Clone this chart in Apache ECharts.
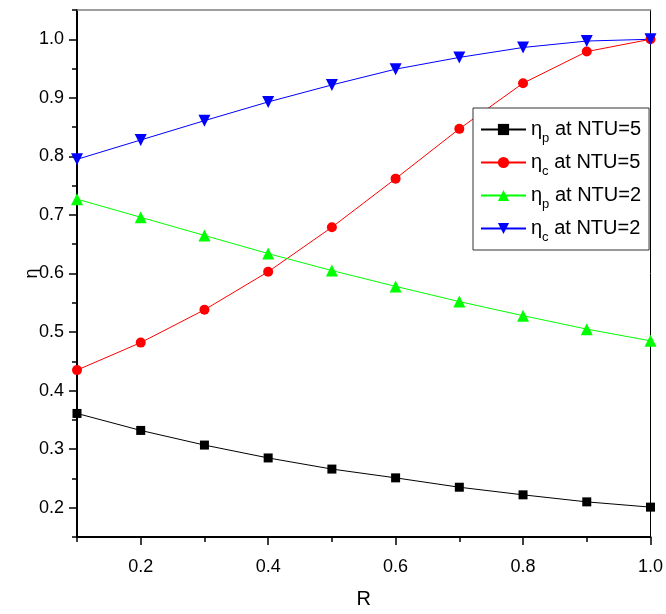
<!DOCTYPE html>
<html>
<head>
<meta charset="utf-8">
<script src="https://cdn.jsdelivr.net/npm/echarts@6/dist/echarts.min.js"></script>
<style>
html, body { margin: 0; padding: 0; background: #fff; }
#chart { width: 666px; height: 614px; }
</style>
</head>
<body>
<div id="chart"></div>
<script>
// R values
var rVals = [0.1, 0.2, 0.3, 0.4, 0.5, 0.6, 0.7, 0.8, 0.9, 1.0];
// efficiencies
var etaP5 = [0.361, 0.332, 0.307, 0.285, 0.266, 0.251, 0.235, 0.222, 0.210, 0.201];
var etaC5 = [0.435, 0.482, 0.538, 0.603, 0.679, 0.762, 0.847, 0.925, 0.979, 1.000];
var etaP2 = [0.727, 0.696, 0.665, 0.634, 0.605, 0.578, 0.552, 0.528, 0.505, 0.485];
var etaC2 = [0.795, 0.828, 0.861, 0.893, 0.922, 0.949, 0.969, 0.986, 0.997, 1.000];

var xMajor = [0.2, 0.4, 0.6, 0.8, 1.0];
var yMajor = [0.2, 0.3, 0.4, 0.5, 0.6, 0.7, 0.8, 0.9, 1.0];

var names = ['{n|η}{s|p}{n| at NTU=5}', '{n|η}{s|c}{n| at NTU=5}', '{n|η}{s|p}{n| at NTU=2}', '{n|η}{s|c}{n| at NTU=2}'];

function pairs(ys) {
	var out = [];
	for (var i = 0; i < rVals.length; i++) {
		out.push([rVals[i], ys[i]]);
	}
	return out;
}

var font = 'Liberation Sans, Arial, sans-serif';

var myChart = echarts.init(document.getElementById('chart'));
var option = {
	animation: false,
	backgroundColor: '#fff',
	textStyle: { fontFamily: font },
	grid: { left: 77, right: 11, top: 10, bottom: 76 },
	legend: {
		left: 473,
		top: 108,
		orient: 'vertical',
		padding: [6, 8, 6, 7],
		itemWidth: 45,
		itemHeight: 14,
		itemGap: 2,
		borderColor: '#333',
		borderWidth: 1,
		backgroundColor: '#fff',
		formatter: function(name) { return name; },
		textStyle: {
			fontSize: 20,
			lineHeight: 31,
			rich: {
				n: { fontSize: 20, color: '#000', fontFamily: font, verticalAlign: 'middle' },
				s: { fontSize: 13, lineHeight: 13, color: '#000', fontFamily: font, verticalAlign: 'bottom' }
			}
		},
		data: names
	},
	xAxis: [
		{
			type: 'value', position: 'bottom',
			min: 0.1, max: 1.0, interval: 0.1,
			name: 'R', nameLocation: 'middle', nameGap: 52, nameMoveOverlap: false,
			nameTextStyle: { fontSize: 20, color: '#000', fontFamily: font },
			axisLine: { lineStyle: { color: '#000', width: 2 } },
			axisTick: { length: 5, lineStyle: { color: '#000', width: 1.5 } },
			axisLabel: {
				customValues: xMajor, margin: 21, fontSize: 18, color: '#000', fontFamily: font,
				formatter: function(v) { return v.toFixed(1); }
			},
			splitLine: { show: false }
		},
		{
			type: 'value', position: 'bottom',
			min: 0.1, max: 1.0, interval: 0.1,
			axisLine: { show: false },
			axisTick: { customValues: xMajor, length: 8, lineStyle: { color: '#000', width: 1.5 } },
			axisLabel: { show: false },
			splitLine: { show: false }
		},
		{
			type: 'value', position: 'top',
			min: 0.1, max: 1.0,
			axisLine: { lineStyle: { color: '#808080', width: 1.5 } },
			axisTick: { show: false },
			axisLabel: { show: false },
			splitLine: { show: false }
		}
	],
	yAxis: [
		{
			type: 'value', position: 'left',
			min: 0.15, max: 1.05, interval: 0.05,
			name: 'η', nameLocation: 'middle', nameGap: 36, nameRotate: 90, nameMoveOverlap: false,
			nameTextStyle: { fontSize: 18, color: '#000', fontFamily: font },
			axisLine: { lineStyle: { color: '#000', width: 2 } },
			axisTick: { length: 5, lineStyle: { color: '#000', width: 1.5 } },
			axisLabel: {
				customValues: yMajor, margin: 13, fontSize: 18, color: '#000', fontFamily: font,
				formatter: function(v) { return v.toFixed(1); }
			},
			splitLine: { show: false }
		},
		{
			type: 'value', position: 'left',
			min: 0.15, max: 1.05, interval: 0.05,
			axisLine: { show: false },
			axisTick: { customValues: yMajor, length: 8, lineStyle: { color: '#000', width: 1.5 } },
			axisLabel: { show: false },
			splitLine: { show: false }
		},
		{
			type: 'value', position: 'right',
			min: 0.15, max: 1.05,
			axisLine: { show: true, lineStyle: { color: '#000', width: 1 } },
			axisTick: { show: false },
			axisLabel: { show: false },
			splitLine: { show: false }
		}
	],
	series: [
		{
			name: names[0], type: 'line', symbol: 'rect', symbolSize: 9,
			itemStyle: { color: '#000' }, lineStyle: { color: '#000', width: 1 },
			data: pairs(etaP5)
		},
		{
			name: names[1], type: 'line', symbol: 'circle', symbolSize: 10,
			itemStyle: { color: '#ff0000' }, lineStyle: { color: '#ff0000', width: 1 },
			data: pairs(etaC5)
		},
		{
			name: names[2], type: 'line', symbol: 'triangle', symbolSize: 12,
			itemStyle: { color: '#00ff00' }, lineStyle: { color: '#00ff00', width: 1 },
			data: pairs(etaP2)
		},
		{
			name: names[3], type: 'line', symbol: 'triangle', symbolRotate: 180, symbolSize: 12,
			itemStyle: { color: '#0000ff' }, lineStyle: { color: '#0000ff', width: 1 },
			data: pairs(etaC2)
		}
	]
};
myChart.setOption(option);
</script>
</body>
</html>
